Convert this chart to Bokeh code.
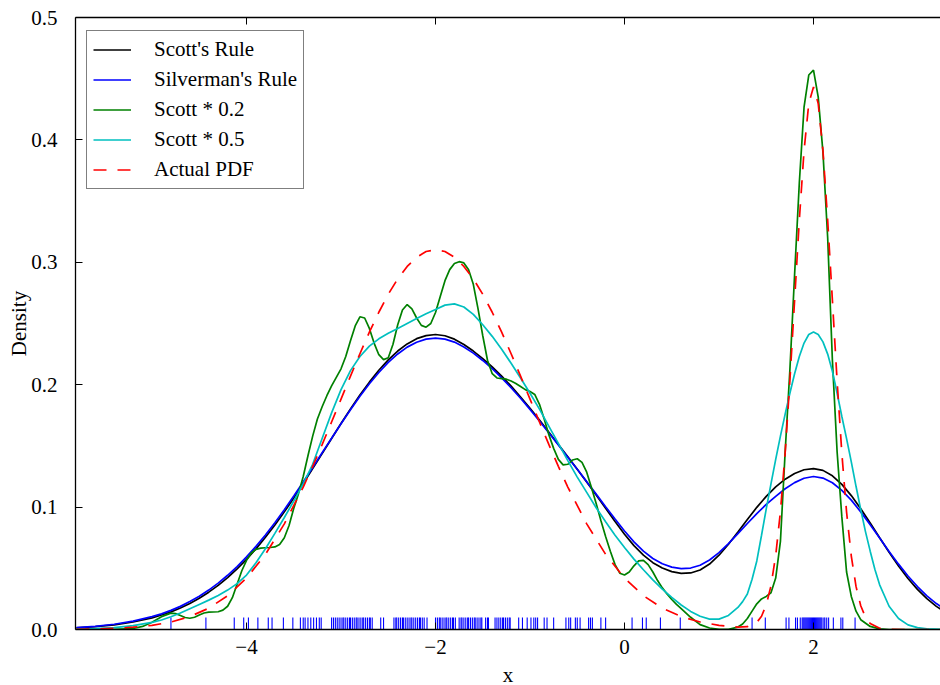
from bokeh.plotting import figure
from bokeh.models import FixedTicker, LinearAxis, Range1d, CustomLabelingPolicy
from bokeh.embed import file_html
from bokeh.resources import INLINE

# ---------------- data ----------------
X_TICKS = [-4, -2, 0, 2]
X_TICK_LABELS = ["\u22124", "\u22122", "0", "2"]
Y_TICKS = [0.0, 0.1, 0.2, 0.3, 0.4, 0.5]
Y_TICK_LABELS = ["0.0", "0.1", "0.2", "0.3", "0.4", "0.5"]
X_LABEL = "x"
Y_LABEL = "Density"
NAMES = ["Scott's Rule", "Silverman's Rule", "Scott * 0.2", "Scott * 0.5", "Actual PDF"]

RUG_X = [-4.80, -4.43, -4.13, -4.03, -3.98, -3.88, -3.77, -3.73, -3.61, -3.51, -3.43, -3.40,
         -3.38, -3.35, -3.32, -3.29, -3.26, -3.23, -3.21, -3.10, -3.08, -3.06, -3.04, -3.02,
         -3.00, -2.98, -2.97, -2.95, -2.93, -2.91, -2.90, -2.88, -2.86, -2.84, -2.83, -2.81,
         -2.79, -2.77, -2.76, -2.74, -2.72, -2.70, -2.69, -2.67, -2.58, -2.55, -2.44, -2.42,
         -2.41, -2.39, -2.37, -2.35, -2.34, -2.32, -2.30, -2.28, -2.26, -2.25, -2.23, -2.21,
         -2.19, -2.17, -2.16, -2.14, -2.12, -2.09, -2.00, -1.98, -1.96, -1.95, -1.93, -1.91,
         -1.89, -1.88, -1.86, -1.84, -1.82, -1.81, -1.79, -1.75, -1.73, -1.72, -1.70, -1.68,
         -1.66, -1.65, -1.63, -1.61, -1.59, -1.58, -1.56, -1.54, -1.52, -1.51, -1.47, -1.45,
         -1.44, -1.37, -1.35, -1.33, -1.31, -1.29, -1.28, -1.26, -1.24, -1.22, -1.21, -1.12,
         -1.08, -1.03, -0.99, -0.96, -0.94, -0.92, -0.85, -0.82, -0.75, -0.62, -0.59, -0.57,
         -0.52, -0.50, -0.47, -0.38, -0.36, -0.34, -0.25, -0.20, 0.08, 0.19, 0.23, 0.38, 0.59,
         1.35, 1.49, 1.71, 1.74, 1.81, 1.83, 1.86, 1.88, 1.89, 1.90, 1.91, 1.92, 1.93, 1.94,
         1.95, 1.96, 1.97, 1.98, 1.99, 2.00, 2.01, 2.02, 2.03, 2.04, 2.05, 2.06, 2.07, 2.08,
         2.09, 2.11, 2.12, 2.14, 2.16, 2.21, 2.29, 2.31, 2.44]

SCOTT = [(-5.8, 0.0013), (-5.6, 0.0023), (-5.4, 0.0038), (-5.2, 0.0061), (-5.0, 0.0095),
         (-4.9, 0.0118), (-4.8, 0.0144), (-4.7, 0.0176), (-4.6, 0.0213), (-4.5, 0.0256),
         (-4.4, 0.0305), (-4.3, 0.0361), (-4.2, 0.0424), (-4.1, 0.0495), (-4.0, 0.0573),
         (-3.9, 0.0659), (-3.8, 0.0753), (-3.7, 0.0854), (-3.6, 0.0961), (-3.5, 0.1074),
         (-3.4, 0.1192), (-3.3, 0.1314), (-3.2, 0.1437), (-3.1, 0.1561), (-3.0, 0.1683),
         (-2.9, 0.1802), (-2.8, 0.1915), (-2.7, 0.2021), (-2.6, 0.2118), (-2.5, 0.2203),
         (-2.4, 0.2275), (-2.3, 0.2333), (-2.2, 0.2376), (-2.1, 0.2401), (-2.0, 0.2410),
         (-1.9, 0.2400), (-1.8, 0.2372), (-1.7, 0.2328), (-1.6, 0.2275), (-1.5, 0.2213),
         (-1.4, 0.2145), (-1.3, 0.2070), (-1.2, 0.1988), (-1.1, 0.1900), (-1.0, 0.1808),
         (-0.9, 0.1712), (-0.8, 0.1612), (-0.7, 0.1512), (-0.6, 0.1412), (-0.5, 0.1310),
         (-0.4, 0.1205), (-0.3, 0.1098), (-0.2, 0.0990), (-0.1, 0.0882), (0.0, 0.0778),
         (0.1, 0.0685), (0.2, 0.0607), (0.3, 0.0546), (0.4, 0.0502), (0.5, 0.0473),
         (0.6, 0.0459), (0.7, 0.0462), (0.8, 0.0486), (0.9, 0.0535), (1.0, 0.0607),
         (1.1, 0.0697), (1.2, 0.0797), (1.3, 0.0899), (1.4, 0.0998), (1.5, 0.1088),
         (1.6, 0.1165), (1.7, 0.1228), (1.8, 0.1275), (1.9, 0.1305), (2.0, 0.1315),
         (2.1, 0.1300), (2.2, 0.1256), (2.3, 0.1186), (2.4, 0.1094), (2.5, 0.0987),
         (2.6, 0.0870), (2.7, 0.0749), (2.8, 0.0631), (2.9, 0.0519), (3.0, 0.0417),
         (3.1, 0.0328), (3.2, 0.0252), (3.3, 0.0189), (3.4, 0.0140)]

SILVERMAN = [(-5.8, 0.0016), (-5.6, 0.0026), (-5.4, 0.0043), (-5.2, 0.0068), (-5.0, 0.0105),
             (-4.9, 0.0128), (-4.8, 0.0156), (-4.7, 0.0189), (-4.6, 0.0228), (-4.5, 0.0272),
             (-4.4, 0.0322), (-4.3, 0.0379), (-4.2, 0.0443), (-4.1, 0.0514), (-4.0, 0.0593),
             (-3.9, 0.0679), (-3.8, 0.0772), (-3.7, 0.0872), (-3.6, 0.0978), (-3.5, 0.1090),
             (-3.4, 0.1205), (-3.3, 0.1323), (-3.2, 0.1444), (-3.1, 0.1562), (-3.0, 0.1681),
             (-2.9, 0.1796), (-2.8, 0.1906), (-2.7, 0.2008), (-2.6, 0.2100), (-2.5, 0.2182),
             (-2.4, 0.2251), (-2.3, 0.2307), (-2.2, 0.2347), (-2.1, 0.2372), (-2.0, 0.2380),
             (-1.9, 0.2372), (-1.8, 0.2348), (-1.7, 0.2308), (-1.6, 0.2258), (-1.5, 0.2198),
             (-1.4, 0.2131), (-1.3, 0.2056), (-1.2, 0.1975), (-1.1, 0.1889), (-1.0, 0.1798),
             (-0.9, 0.1703), (-0.8, 0.1605), (-0.7, 0.1507), (-0.6, 0.1408), (-0.5, 0.1309),
             (-0.4, 0.1208), (-0.3, 0.1106), (-0.2, 0.1003), (-0.1, 0.0902), (0.0, 0.0805),
             (0.1, 0.0716), (0.2, 0.0640), (0.3, 0.0580), (0.4, 0.0537), (0.5, 0.0510),
             (0.6, 0.0498), (0.7, 0.0502), (0.8, 0.0525), (0.9, 0.0568), (1.0, 0.0628),
             (1.1, 0.0702), (1.2, 0.0783), (1.3, 0.0866), (1.4, 0.0947), (1.5, 0.1022),
             (1.6, 0.1088), (1.7, 0.1150), (1.8, 0.1200), (1.9, 0.1236), (2.0, 0.1250),
             (2.1, 0.1237), (2.2, 0.1199), (2.3, 0.1137), (2.4, 0.1057), (2.5, 0.0961),
             (2.6, 0.0856), (2.7, 0.0747), (2.8, 0.0638), (2.9, 0.0534), (3.0, 0.0437),
             (3.1, 0.0351), (3.2, 0.0275), (3.3, 0.0212), (3.4, 0.0160)]

SCOTT_02 = [(-5.8, 0.0), (-5.4, 0.0002), (-5.2, 0.0008), (-5.1, 0.0025), (-5.0, 0.0060),
            (-4.9, 0.0105), (-4.8, 0.0134), (-4.75, 0.0130), (-4.7, 0.0115), (-4.65, 0.0098),
            (-4.6, 0.0092), (-4.55, 0.0100), (-4.5, 0.0118), (-4.45, 0.0135), (-4.4, 0.0142),
            (-4.35, 0.0143), (-4.3, 0.0145), (-4.25, 0.0158), (-4.2, 0.0190), (-4.15, 0.0260),
            (-4.1, 0.0370), (-4.05, 0.0480), (-4.0, 0.0565), (-3.95, 0.0625), (-3.9, 0.0655),
            (-3.85, 0.0665), (-3.8, 0.0668), (-3.75, 0.0670), (-3.7, 0.0675), (-3.65, 0.0695),
            (-3.6, 0.0750), (-3.55, 0.0850), (-3.5, 0.0990), (-3.45, 0.1110), (-3.4, 0.1250),
            (-3.35, 0.1420), (-3.3, 0.1580), (-3.25, 0.1720), (-3.2, 0.1820), (-3.15, 0.1910),
            (-3.1, 0.1990), (-3.05, 0.2060), (-3.0, 0.2130), (-2.95, 0.2230), (-2.9, 0.2360),
            (-2.85, 0.2480), (-2.8, 0.2555), (-2.75, 0.2545), (-2.7, 0.2460), (-2.65, 0.2340),
            (-2.6, 0.2245), (-2.55, 0.2205), (-2.5, 0.2220), (-2.45, 0.2330), (-2.4, 0.2490),
            (-2.35, 0.2610), (-2.3, 0.2655), (-2.25, 0.2620), (-2.2, 0.2545), (-2.15, 0.2485),
            (-2.1, 0.2470), (-2.05, 0.2500), (-2.0, 0.2590), (-1.95, 0.2720), (-1.9, 0.2850),
            (-1.85, 0.2940), (-1.8, 0.2990), (-1.75, 0.3005), (-1.7, 0.2995), (-1.65, 0.2940),
            (-1.6, 0.2820), (-1.55, 0.2620), (-1.5, 0.2400), (-1.45, 0.2200), (-1.4, 0.2090),
            (-1.35, 0.2055), (-1.3, 0.2050), (-1.25, 0.2045), (-1.2, 0.2030), (-1.15, 0.2010),
            (-1.1, 0.1985), (-1.05, 0.1960), (-1.0, 0.1945), (-0.95, 0.1920), (-0.9, 0.1840),
            (-0.85, 0.1720), (-0.8, 0.1590), (-0.75, 0.1480), (-0.7, 0.1390), (-0.65, 0.1345),
            (-0.6, 0.1350), (-0.55, 0.1385), (-0.5, 0.1395), (-0.45, 0.1365), (-0.4, 0.1285),
            (-0.35, 0.1160), (-0.3, 0.1030), (-0.25, 0.0890), (-0.2, 0.0760), (-0.15, 0.0640),
            (-0.1, 0.0530), (-0.05, 0.0460), (0.0, 0.0445), (0.05, 0.0470), (0.1, 0.0520),
            (0.15, 0.0560), (0.2, 0.0565), (0.25, 0.0530), (0.3, 0.0470), (0.35, 0.0400),
            (0.4, 0.0340), (0.45, 0.0290), (0.5, 0.0245), (0.55, 0.0205), (0.6, 0.0170),
            (0.7, 0.0100), (0.8, 0.0040), (0.9, 0.0012), (1.0, 0.0002), (1.1, 0.0002),
            (1.2, 0.0020), (1.25, 0.0045), (1.3, 0.0090), (1.35, 0.0150), (1.4, 0.0210),
            (1.45, 0.0250), (1.5, 0.0270), (1.55, 0.0300), (1.6, 0.0420), (1.65, 0.0720),
            (1.7, 0.1450), (1.75, 0.2120), (1.8, 0.2900), (1.85, 0.3650), (1.9, 0.4267),
            (1.95, 0.4530), (2.0, 0.4570), (2.05, 0.4350), (2.1, 0.3900), (2.15, 0.3200),
            (2.2, 0.2200), (2.25, 0.1450), (2.3, 0.0920), (2.35, 0.0470), (2.4, 0.0270),
            (2.45, 0.0150), (2.5, 0.0080), (2.6, 0.0025), (2.7, 0.0005), (2.8, 0.0),
            (3.4, 0.0)]

SCOTT_05 = [(-5.8, 0.0004), (-5.6, 0.0008), (-5.4, 0.0016), (-5.2, 0.0032), (-5.0, 0.0058),
            (-4.9, 0.0078), (-4.8, 0.0104), (-4.7, 0.0135), (-4.6, 0.0170), (-4.5, 0.0205),
            (-4.4, 0.0240), (-4.3, 0.0278), (-4.2, 0.0322), (-4.1, 0.0375), (-4.0, 0.0445),
            (-3.9, 0.0545), (-3.8, 0.0660), (-3.7, 0.0785), (-3.6, 0.0915), (-3.5, 0.1050),
            (-3.4, 0.1190), (-3.3, 0.1350), (-3.2, 0.1560), (-3.1, 0.1770), (-3.0, 0.1960),
            (-2.9, 0.2115), (-2.8, 0.2230), (-2.7, 0.2315), (-2.6, 0.2375), (-2.5, 0.2420),
            (-2.4, 0.2460), (-2.3, 0.2500), (-2.2, 0.2540), (-2.1, 0.2580), (-2.0, 0.2615),
            (-1.9, 0.2650), (-1.8, 0.2660), (-1.7, 0.2635), (-1.6, 0.2575), (-1.5, 0.2490),
            (-1.4, 0.2395), (-1.3, 0.2290), (-1.2, 0.2175), (-1.1, 0.2055), (-1.0, 0.1930),
            (-0.9, 0.1800), (-0.8, 0.1660), (-0.7, 0.1520), (-0.6, 0.1380), (-0.5, 0.1245),
            (-0.4, 0.1120), (-0.3, 0.0995), (-0.2, 0.0880), (-0.1, 0.0770), (0.0, 0.0670),
            (0.1, 0.0575), (0.2, 0.0488), (0.3, 0.0405), (0.4, 0.0330), (0.5, 0.0262),
            (0.6, 0.0200), (0.7, 0.0148), (0.8, 0.0108), (0.9, 0.0085), (1.0, 0.0085),
            (1.1, 0.0115), (1.2, 0.0180), (1.25, 0.0228), (1.3, 0.0290), (1.35, 0.0410),
            (1.4, 0.0560), (1.45, 0.0770), (1.5, 0.0985), (1.55, 0.1190), (1.6, 0.1390),
            (1.65, 0.1580), (1.7, 0.1760), (1.75, 0.1930), (1.8, 0.2090), (1.85, 0.2230),
            (1.9, 0.2340), (1.95, 0.2410), (2.0, 0.2430), (2.05, 0.2410), (2.1, 0.2350),
            (2.15, 0.2250), (2.2, 0.2110), (2.25, 0.1930), (2.3, 0.1740), (2.35, 0.1560),
            (2.4, 0.1370), (2.45, 0.1170), (2.5, 0.0980), (2.55, 0.0800), (2.6, 0.0640),
            (2.65, 0.0490), (2.7, 0.0365), (2.8, 0.0190), (2.9, 0.0090), (3.0, 0.0038),
            (3.1, 0.0015), (3.2, 0.0005), (3.4, 0.0001)]

ACTUAL_PDF = [(-5.8, 0.0002), (-5.6, 0.0005), (-5.4, 0.0009), (-5.2, 0.0019), (-5.0, 0.0034),
              (-4.8, 0.0061), (-4.6, 0.0106), (-4.4, 0.0174), (-4.2, 0.0276), (-4.0, 0.0420),
              (-3.8, 0.0614), (-3.6, 0.0863), (-3.4, 0.1164), (-3.3, 0.1333), (-3.2, 0.1510),
              (-3.1, 0.1695), (-3.0, 0.1882), (-2.9, 0.2070), (-2.8, 0.2253), (-2.7, 0.2429),
              (-2.6, 0.2592), (-2.5, 0.2739), (-2.4, 0.2865), (-2.3, 0.2966), (-2.2, 0.3041),
              (-2.1, 0.3088), (-2.0, 0.3103), (-1.9, 0.3088), (-1.8, 0.3041), (-1.7, 0.2966),
              (-1.6, 0.2865), (-1.5, 0.2739), (-1.4, 0.2592), (-1.3, 0.2429), (-1.2, 0.2253),
              (-1.1, 0.2070), (-1.0, 0.1882), (-0.9, 0.1695), (-0.8, 0.1510), (-0.7, 0.1333),
              (-0.6, 0.1164), (-0.4, 0.0863), (-0.2, 0.0614), (0.0, 0.0420), (0.2, 0.0276),
              (0.4, 0.0174), (0.6, 0.0106), (0.8, 0.0061), (1.0, 0.0034), (1.2, 0.0020),
              (1.3, 0.0023), (1.4, 0.0058), (1.45, 0.0108), (1.5, 0.0201), (1.55, 0.0357),
              (1.6, 0.0605), (1.65, 0.0963), (1.7, 0.1442), (1.75, 0.2032), (1.8, 0.2691),
              (1.85, 0.3346), (1.9, 0.3912), (1.95, 0.4297), (2.0, 0.4433), (2.05, 0.4297),
              (2.1, 0.3912), (2.15, 0.3346), (2.2, 0.2689), (2.25, 0.2029), (2.3, 0.1439),
              (2.35, 0.0959), (2.4, 0.0600), (2.45, 0.0352), (2.5, 0.0194), (2.55, 0.0101),
              (2.6, 0.0049), (2.7, 0.0010), (2.8, 0.0001), (3.0, 0.0), (3.4, 0.0)]

# ---------------- styling ----------------
FONT = "Liberation Serif"
FS = "21px"
RUG_HEIGHT = 0.0098  # visible height of the '+' rug markers

p = figure(frame_width=865, frame_height=612,
           x_range=Range1d(-5.81, 3.344), y_range=Range1d(0, 0.5),
           output_backend="svg", toolbar_location=None,
           min_border_left=75, min_border_top=17, min_border_right=0, min_border_bottom=0,
           background_fill_color="white", border_fill_color="white")
p.outline_line_color = None
p.xgrid.visible = False
p.ygrid.visible = False

def style_axis(ax, ticks, labels=None):
    ax.ticker = FixedTicker(ticks=ticks)
    if labels is not None:
        ax.major_label_overrides = {t: l for t, l in zip(ticks, labels)}
    ax.major_tick_in = 7
    ax.major_tick_out = 0
    ax.minor_tick_line_color = None
    ax.axis_line_color = "black"
    ax.axis_line_width = 1.3
    ax.major_tick_line_width = 1.0
    ax.major_tick_line_color = "black"
    ax.major_label_text_font = FONT
    ax.major_label_text_font_size = FS
    ax.major_label_text_color = "black"
    ax.axis_label_text_font = FONT
    ax.axis_label_text_font_size = FS
    ax.axis_label_text_font_style = "normal"
    ax.axis_label_text_color = "black"

xa = p.xaxis[0]
style_axis(xa, X_TICKS, X_TICK_LABELS)
xa.axis_label = X_LABEL
xa.major_label_standoff = 10
xa.axis_label_standoff = 6

ya = p.yaxis[0]
style_axis(ya, Y_TICKS, Y_TICK_LABELS)
ya.axis_label = Y_LABEL
ya.major_label_standoff = 18
ya.axis_label_standoff = -3

# top spine with inward ticks and no labels
top = LinearAxis()
style_axis(top, X_TICKS)
top.major_label_standoff = 0
top.major_label_policy = CustomLabelingPolicy(code="""
const all = [...indices]
for (const i of all) indices.unset(i)
""")
p.add_layout(top, "above")

# rug of data points
p.segment(x0=RUG_X, y0=[0.0] * len(RUG_X), x1=RUG_X, y1=[RUG_HEIGHT] * len(RUG_X),
          line_color="#0000ff", line_width=1.1)

LW = 1.7
curves = [(SCOTT, "#000000", "solid"), (SILVERMAN, "#0000ff", "solid"),
          (SCOTT_02, "#008000", "solid"), (SCOTT_05, "#00bfbf", "solid"),
          (ACTUAL_PDF, "#ff0000", "13 11")]
for (pts, color, dash), name in zip(curves, NAMES):
    xs = [a for a, b in pts]
    ys = [b for a, b in pts]
    p.line(xs, ys, line_color=color, line_width=LW, line_dash=dash, legend_label=name)

lg = p.legend[0]
lg.location = (11, 440)
lg.margin = 0
lg.padding = 6
lg.spacing = 5
lg.glyph_width = 38
lg.glyph_height = 23
lg.label_height = 23
lg.label_standoff = 23
lg.label_text_font = FONT
lg.label_text_font_size = FS
lg.label_text_color = "black"
lg.border_line_color = "black"
lg.border_line_width = 1.3
lg.background_fill_color = "white"
lg.background_fill_alpha = 1.0

open("out.html", "w").write(file_html(p, INLINE))
